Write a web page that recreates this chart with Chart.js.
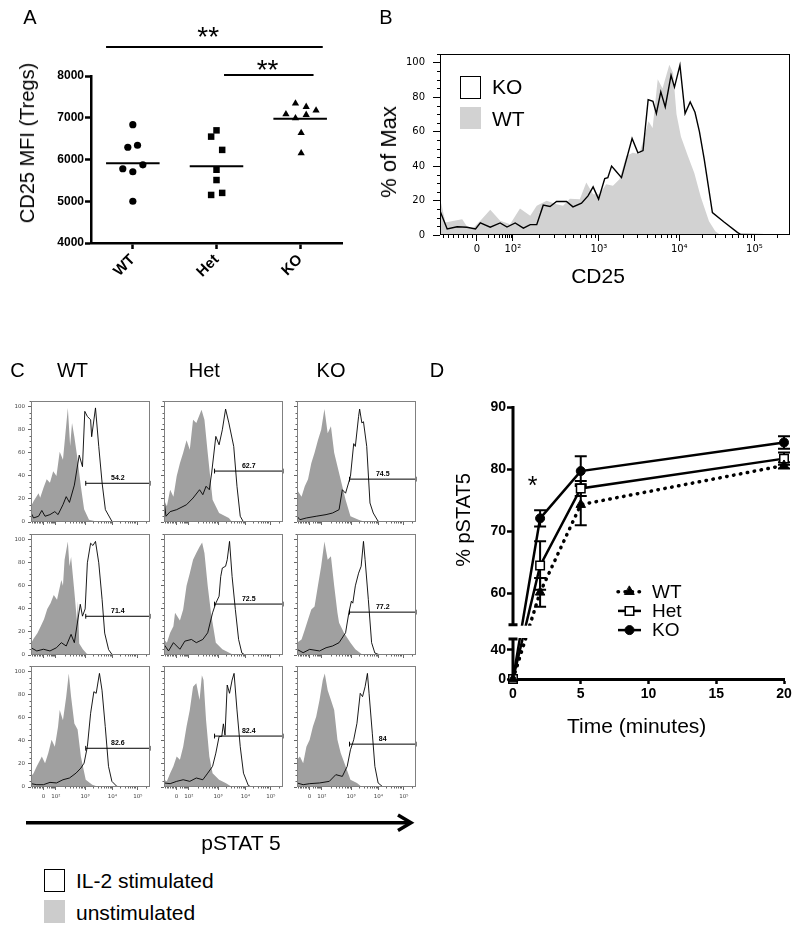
<!DOCTYPE html>
<html>
<head>
<meta charset="utf-8">
<title>CD25 and pSTAT5 in Tregs</title>
<script src="https://cdn.jsdelivr.net/npm/chart.js@4.4.1/dist/chart.umd.min.js"></script>
<style>
  html, body { margin: 0; padding: 0; background: #fff; }
  #fig { position: relative; width: 800px; height: 935px; overflow: hidden;
         font-family: "Liberation Sans", Arial, sans-serif; color: #000; }
  #fig canvas { position: absolute; }
  .t { position: absolute; white-space: nowrap; line-height: 1; transform: translate(-50%, -50%); z-index: 2; }
  .tl { position: absolute; white-space: nowrap; line-height: 1; transform: translate(0, -50%); z-index: 2; }
  .v { transform: translate(-50%, -50%) rotate(-90deg); }
  .key { position: absolute; box-sizing: border-box; z-index: 2; }
  svg { position: absolute; left: 0; top: 0; z-index: 2; }
</style>
</head>
<body>
<div id="fig">
  <!-- panel letters and titles -->
  <div class="t" style="left:30px;top:16.5px;font-size:20px">A</div>
  <div class="t" style="left:386px;top:16.5px;font-size:20px">B</div>
  <div class="t" style="left:17.5px;top:370px;font-size:20px">C</div>
  <div class="t" style="left:437px;top:370px;font-size:20px">D</div>

  <div class="t v" style="left:26.5px;top:142.5px;font-size:20px">CD25 MFI (Tregs)</div>

  <div class="t v" style="left:388.5px;top:151.5px;font-size:22px">% of Max</div>
  <div class="t" style="left:598px;top:275px;font-size:21px">CD25</div>
  <div class="key" style="left:460px;top:76px;width:21px;height:23px;border:1.5px solid #000;background:#fff"></div>
  <div class="tl" style="left:492px;top:86px;font-size:21px">KO</div>
  <div class="key" style="left:460px;top:107px;width:21px;height:22px;background:#d2d2d2"></div>
  <div class="tl" style="left:492px;top:118px;font-size:21px">WT</div>

  <div class="t" style="left:72.5px;top:370px;font-size:20px">WT</div>
  <div class="t" style="left:204.3px;top:370px;font-size:20px">Het</div>
  <div class="t" style="left:331px;top:370px;font-size:20px">KO</div>
  <div class="t" style="left:241px;top:841.5px;font-size:21px">pSTAT 5</div>
  <div class="key" style="left:44px;top:869px;width:21px;height:23px;border:1.5px solid #000;background:#fff"></div>
  <div class="tl" style="left:76px;top:879.5px;font-size:21px">IL-2 stimulated</div>
  <div class="key" style="left:44px;top:900px;width:21px;height:23px;background:#cccccc"></div>
  <div class="tl" style="left:76px;top:911.5px;font-size:21px">unstimulated</div>

  <div class="t v" style="left:463px;top:520px;font-size:20px">% pSTAT5</div>
  <div class="t" style="left:636.7px;top:725px;font-size:21px">Time (minutes)</div>
  <div class="t" style="left:532.5px;top:484.7px;font-size:25px">*</div>

  <svg width="800" height="935">
    <line x1="26" y1="822.7" x2="410" y2="822.7" stroke="#000" stroke-width="3.5"/>
    <polyline points="398,815 411,822.7 398,830.4" fill="none" stroke="#000" stroke-width="3.5"/>
  </svg>
</div>

<script>
// ---------- A: CD25 MFI of Tregs, one point per mouse ----------
const groups = ['WT', 'Het', 'KO'];
const mfiTicks = [4000, 5000, 6000, 7000, 8000];
const wtMFI = [6833, 6294, 6341, 5778, 5706, 5873, 5000];
const wtJitter = [0, -0.06, 0.056, -0.12, 0, 0.12, 0];
const hetMFI = [6698, 6548, 6230, 5754, 5508, 5151, 5200];
const hetJitter = [0, -0.064, 0.068, 0, 0, -0.064, 0.068];
const koMFI = [7341, 7262, 7175, 7087, 7071, 6992, 6635, 6151];
const koJitter = [-0.056, 0.072, 0.19, -0.17, 0.072, -0.056, 0.012, 0.012];
const groupMeans = [5913, 5841, 6976];

// ---------- B, C: histograms, x in channels (0-1024) of a biexponential axis ----------
const channelTicks = [108, 213, 465, 700, 920];
const channelLabels = ['0', '10²', '10³', '10⁴', '10⁵'];
const pctTicks = [0, 20, 40, 60, 80, 100];

// B: [channel, % of max]
const bKO = [[0,12],[2,13],[21,3.5],[50,4.8],[79,4.5],[104,3.5],[118,7],[147,4.5],[176,7],[196,4.6],[220,7],[244,4],[264,6],[283,6],[302,17.3],[322,16.5],[341,19.4],[370,19.4],[389,16.3],[414,18.5],[433,22.7],[448,27.9],[464,20.8],[482,32.7],[491,33.3],[502,40],[515,37],[531,33.3],[562,56],[579,47.7],[594,49],[609,78.5],[623,77.5],[633,70.5],[646,83],[659,74.3],[676,92.7],[686,85.8],[702,98.5],[717,70.5],[732,77.2],[746,71.2],[759,60],[773,44],[788,24.6],[797,13],[831,7.5],[870,1.5],[880,0.3],[1024,0]];
const bWT = [[0,20],[4,18],[16,7.3],[41,8.3],[65,9.2],[79,5],[94,3.5],[118,8.3],[147,14.6],[176,8.3],[205,6.3],[234,15.4],[264,11.2],[283,17],[312,19.8],[341,17.9],[360,17],[380,21],[409,20.8],[428,30.4],[448,23.7],[467,23.7],[486,29.4],[506,28.5],[525,32.3],[545,45.8],[564,47.7],[583,47],[599,58],[610,66],[622,62],[637,90.4],[651,85],[671,98.7],[682,94],[692,70],[705,57],[725,46],[744,36],[763,22],[787,8],[806,2],[821,0],[1024,0]];

// C: three experiments (rows) x WT / Het / KO (columns); [channel, % of max]
const cWT1Stim = [[0,8],[22,3.5],[65,5],[93,10],[121,5],[163,6.4],[205,9],[233,6.4],[275,15],[303,22],[331,17],[373,32],[415,58],[443,48],[463,96],[485,91.6],[513,88.7],[522,74],[555,99],[583,65.6],[612,33.8],[640,10.7],[696,0.6],[724,0],[1024,0]];
const cWT1Unst = [[0,13.6],[22,18],[65,25],[79,21],[107,29.5],[135,37],[163,34],[191,44],[219,40],[247,61],[275,54],[317,99],[337,66],[353,86],[373,74],[401,54],[429,31],[457,11],[499,2],[583,0],[1024,0]];
const cHet1Stim = [[0,19.4],[17,5],[53,9],[109,10.7],[194,15],[250,20.8],[306,28],[334,23.7],[362,31],[390,28],[410,42.5],[446,74.3],[474,67],[502,80],[530,98],[558,86],[600,65.6],[628,31],[656,5],[684,0],[1024,0]];
const cHet1Unst = [[0,19.4],[25,13.6],[53,28],[81,22],[109,39.6],[137,51],[165,60],[194,71],[222,62.7],[250,88.7],[278,86],[323,97.4],[348,88.7],[376,60],[418,19.4],[474,7.8],[558,3.5],[586,0],[1024,0]];
const cKO1Stim = [[0,5],[25,2],[81,3.5],[165,5],[250,6.4],[306,7.8],[362,10.7],[390,28],[418,25],[460,39.6],[488,68],[502,65.6],[530,91.6],[539,98],[558,86],[572,87],[600,65.6],[628,16.5],[656,7.8],[698,0.6],[727,0],[1024,0]];
const cKO1Unst = [[0,28],[39,22],[67,31],[95,37],[123,51],[151,60],[180,71],[208,80],[236,98],[264,77],[292,83],[320,60],[362,42.5],[418,19.4],[460,5],[530,2],[586,0],[1024,0]];

const cWT2Stim = [[0,6.3],[50,3.5],[107,5],[163,3.5],[219,6.3],[261,10.7],[303,7.8],[345,17.9],[373,10.7],[424,44],[443,33.7],[466,40],[485,80],[513,97],[533,95],[555,98.6],[583,80],[612,48],[634,19],[668,4.6],[696,0.6],[720,0],[1024,0]];
const cWT2Unst = [[0,10],[22,14],[56,19],[84,25],[112,31],[140,40],[168,45],[196,52],[224,48],[261,65],[275,60],[289,82.7],[317,98.6],[331,77],[345,85],[373,55],[395,30],[404,46.7],[415,10],[446,5],[480,1],[520,0],[1024,0]];
const cHet2Stim = [[0,9.2],[39,3.5],[81,10.7],[137,5],[179,12],[236,13.5],[278,10.7],[334,13.5],[376,19.3],[418,36.6],[446,45],[474,51],[488,68],[502,75.5],[530,77],[544,82.7],[564,98.6],[586,68],[614,39.5],[642,13.5],[670,1.7],[698,0],[1024,0]];
const cHet2Unst = [[0,13.5],[25,10.7],[53,19.3],[81,25],[95,36.6],[137,30],[165,39.5],[194,60],[222,71],[250,82.7],[278,88.5],[306,94],[328,97.7],[348,88.5],[376,60],[404,36.6],[446,10.7],[502,4.9],[586,0.6],[614,0],[1024,0]];
const cKO2Stim = [[0,4.9],[53,2],[109,4.9],[194,3.5],[250,6.3],[306,7.8],[362,10.7],[418,19.3],[446,36.6],[468,46.7],[480,45],[502,60],[530,71],[552,77],[572,98.6],[586,82.7],[614,48],[642,10.7],[670,1.7],[698,0.6],[720,0],[1024,0]];
const cKO2Unst = [[0,10.7],[39,13.5],[67,22],[95,30.8],[123,39.5],[151,42],[180,60],[208,77],[236,98.6],[264,82.7],[292,85.6],[320,60],[348,36.6],[362,28],[404,19.3],[460,10.7],[502,5],[558,0.6],[580,0],[1024,0]];

const cWT3Stim = [[0,2.9],[50,2],[107,2],[163,4],[219,3.5],[275,6.3],[331,7.8],[387,12],[429,16.4],[457,20.7],[485,35],[513,64],[541,82.7],[561,81.3],[589,98.6],[611,84],[639,52.4],[667,17.9],[696,4.9],[738,0.6],[766,0],[1024,0]];
const cWT3Unst = [[0,9.2],[22,12],[50,17.9],[79,23.6],[93,26.5],[121,20.7],[149,29.4],[177,41],[205,35],[233,52.4],[247,66.9],[275,58],[303,78.4],[325,98.6],[345,78.4],[373,55],[401,50],[429,26.5],[471,6.3],[527,2],[583,0],[1024,0]];
const cHet3Stim = [[0,3.5],[53,2.9],[109,4.9],[165,6.3],[222,4.9],[278,7.8],[334,6.3],[376,12],[418,17.9],[446,29.4],[474,43.8],[497,43.8],[511,54.8],[525,45],[544,88.5],[564,81.3],[586,92.8],[603,98.6],[628,66.9],[656,35],[684,12],[726,1.2],[754,0],[1024,0]];
const cHet3Unst = [[0,6.3],[25,4.9],[53,12],[81,17.9],[109,26.5],[137,23.6],[165,35],[194,52.4],[222,66.9],[250,87],[278,90],[306,75.5],[326,97],[340,92.8],[362,58],[390,26.5],[418,12],[474,6.3],[530,3.5],[586,0],[1024,0]];
const cKO3Stim = [[0,3.5],[53,2],[109,2.9],[194,3.5],[278,4.9],[334,10.7],[390,9.2],[432,17.9],[460,32.3],[488,41],[516,55.3],[544,81.3],[564,78.4],[586,87],[606,98.6],[620,81.3],[648,46.7],[670,17.9],[698,3.5],[740,0],[1024,0]];
const cKO3Unst = [[0,23.6],[25,26.5],[53,20.7],[81,35],[109,41],[137,52.4],[165,61],[194,75.5],[222,92.8],[239,98.6],[264,84],[292,75.5],[320,66.9],[348,41],[376,29.4],[418,17.9],[460,6.3],[516,3.5],[558,0],[1024,0]];

// pSTAT5+ gate: start channel and drawn height per genotype, % positive per panel
const gateStart = [471, 435, 452];
const gateLevel = [33.6, 44.2, 37.2];
const gatePercent = [['54.2', '62.7', '74.5'], ['71.4', '72.5', '77.2'], ['82.6', '82.4', '84']];

// ---------- D: % pSTAT5 over time, mean and SEM ----------
const minutes = [0, 2, 5, 20];
const minuteTicks = [0, 5, 10, 15, 20];
const pstatTicks = [0, 40, 60, 70, 80, 90];
const pstatWT = [0, 60.2, 74.3, 80.6];
const semWT = [0, 2.3, 3.3, 0.5];
const pstatHet = [0, 64.5, 76.9, 81.7];
const semHet = [0, 3.9, 1.2, 1.0];
const pstatKO = [0, 72.1, 79.7, 84.3];
const semKO = [0, 1.3, 2.4, 1.0];

// ---------------------------------------------------------------
Chart.defaults.font.family = '"Liberation Sans", Arial, sans-serif';
Chart.defaults.color = '#000';
Chart.defaults.animation = false;
Chart.defaults.events = [];
Chart.defaults.plugins.legend.display = false;
Chart.defaults.plugins.tooltip.enabled = false;

const fig = document.getElementById('fig');
function addCanvas(left, top, w, h) {
    const c = document.createElement('canvas');
    c.width = w;
    c.height = h;
    Object.assign(c.style, { left: left + 'px', top: top + 'px', width: w + 'px', height: h + 'px' });
    fig.insertBefore(c, fig.firstChild);
    return c;
}
const toXY = pairs => pairs.map(p => ({ x: p[0], y: p[1] }));

// minor tick positions along the biexponential axis
function channelMinors() {
    const out = [];
    for (let k = 1; k <= 7; k++) out.push(channelTicks[0] - 14 * k);
    for (let d = 0; d < channelTicks.length; d++) {
        const lo = channelTicks[d];
        const hi = d + 1 < channelTicks.length ? channelTicks[d + 1] : 2 * lo - channelTicks[d - 1];
        for (let m = 2; m <= 9; m++) out.push(lo + (hi - lo) * Math.log10(m));
    }
    return out.filter(v => v > 0 && v < 1024);
}
const xMinors = channelMinors();
const yMinors = [];
for (let v = 5; v <= 105; v += 5) if (v % 20) yMinors.push(v);

// ---------- plugins ----------
const frame = {
    id: 'frame',
    afterDatasetsDraw(chart, args, o) {
        const a = chart.chartArea, ctx = chart.ctx;
        ctx.save();
        ctx.strokeStyle = o.color;
        ctx.lineWidth = 1;
        ctx.strokeRect(a.left + 0.5, a.top + 0.5, a.right - a.left - 1, a.bottom - a.top - 1);
        ctx.restore();
    }
};

const minorTicks = {
    id: 'minorTicks',
    afterDraw(chart, args, o) {
        const { ctx, chartArea: a, scales } = chart;
        ctx.save();
        ctx.strokeStyle = o.color;
        ctx.lineWidth = 1;
        ctx.beginPath();
        xMinors.forEach(v => {
            const px = Math.round(scales.x.getPixelForValue(v)) + 0.5;
            ctx.moveTo(px, a.bottom);
            ctx.lineTo(px, a.bottom + o.len);
        });
        yMinors.forEach(v => {
            const py = Math.round(scales.y.getPixelForValue(v)) + 0.5;
            ctx.moveTo(a.left, py);
            ctx.lineTo(a.left - o.len, py);
        });
        ctx.stroke();
        ctx.restore();
    }
};

const gateLabel = {
    id: 'gateLabel',
    afterDatasetsDraw(chart, args, o) {
        if (!o.text) return;
        const pts = chart.getDatasetMeta(2).data;
        const ctx = chart.ctx;
        ctx.save();
        ctx.font = 'bold 7px "Liberation Sans"';
        ctx.textAlign = 'center';
        ctx.textBaseline = 'alphabetic';
        ctx.fillStyle = '#000';
        ctx.fillText(o.text, (pts[0].x + pts[1].x) / 2, pts[0].y - 3);
        ctx.restore();
    }
};

function histChart(canvas, c) {
    const datasets = [
        { data: toXY(c.stim), borderColor: '#000', borderWidth: c.lw, pointRadius: 0, fill: false, tension: 0, order: 0 },
        { data: toXY(c.unstim), borderColor: 'rgba(0,0,0,0)', borderWidth: 0, backgroundColor: c.fillColor,
          fill: 'origin', pointRadius: 0, tension: 0, order: 1 }
    ];
    if (c.gate) {
        datasets.push({
            data: [{ x: c.gate[0], y: c.gate[1] }, { x: 1024, y: c.gate[1] }],
            borderColor: '#000', borderWidth: 1, pointStyle: 'line', rotation: 90, pointRadius: 2.4,
            pointBorderWidth: 1, pointBorderColor: '#000', order: -1, clip: false
        });
    }
    const labelFont = { family: '"DejaVu Sans"', size: c.font };
    return new Chart(canvas, {
        type: 'line',
        data: { datasets },
        options: {
            responsive: false,
            devicePixelRatio: 1,
            layout: { padding: { top: c.padTop, right: c.padRight, left: 0, bottom: 0 } },
            scales: {
                x: {
                    type: 'linear', min: 0, max: 1024,
                    afterFit: s => { s.height = c.xH; },
                    afterBuildTicks: s => { s.ticks = channelTicks.map(v => ({ value: v })); },
                    ticks: { display: c.xLabels, callback: (v, i) => channelLabels[i], font: labelFont,
                             color: c.labelColor, padding: c.xPad, maxRotation: 0, autoSkip: false },
                    grid: { drawOnChartArea: false, tickLength: c.majorX, tickColor: c.tickColor, tickWidth: 1 },
                    border: { display: false }
                },
                y: {
                    min: 0, max: 105,
                    afterFit: s => { s.width = c.yW; },
                    afterBuildTicks: s => { s.ticks = pctTicks.map(v => ({ value: v })); },
                    ticks: { display: c.yLabels, callback: v => String(v), font: labelFont,
                             color: c.labelColor, padding: c.yPad, autoSkip: false },
                    grid: { drawOnChartArea: false, tickLength: c.majorY, tickColor: c.tickColor, tickWidth: 1 },
                    border: { display: false }
                }
            },
            plugins: {
                frame: { color: c.frameColor },
                minorTicks: { color: c.tickColor, len: c.minorLen },
                gateLabel: { text: c.gateText }
            }
        },
        plugins: [frame, minorTicks, gateLabel]
    });
}

// ---------- A ----------
const meanLines = {
    id: 'meanLines',
    afterDatasetsDraw(chart, args, o) {
        const { ctx, scales: { x, y } } = chart;
        ctx.save();
        ctx.strokeStyle = '#000';
        ctx.lineWidth = 2;
        groupMeans.forEach((m, g) => {
            const py = y.getPixelForValue(m);
            ctx.beginPath();
            ctx.moveTo(x.getPixelForValue(g - o.half), py);
            ctx.lineTo(x.getPixelForValue(g + o.half), py);
            ctx.stroke();
        });
        ctx.restore();
    }
};

const sigBars = {
    id: 'sigBars',
    afterDraw(chart, args, o) {
        const { ctx, scales: { x, y } } = chart;
        ctx.save();
        ctx.strokeStyle = '#000';
        ctx.fillStyle = '#000';
        ctx.lineWidth = 2;
        ctx.font = '28px "Liberation Sans"';
        ctx.textAlign = 'center';
        o.bars.forEach(b => {
            const py = y.getPixelForValue(b.y);
            ctx.beginPath();
            ctx.moveTo(x.getPixelForValue(b.from), py);
            ctx.lineTo(x.getPixelForValue(b.to), py);
            ctx.stroke();
            const m = ctx.measureText(b.text);
            const cy = py - b.lift;
            ctx.fillText(b.text, x.getPixelForValue(b.starX), cy + (m.actualBoundingBoxAscent - m.actualBoundingBoxDescent) / 2);
        });
        ctx.restore();
    }
};

const axisStyle = (len) => ({ drawOnChartArea: false, tickLength: len, tickWidth: 2.5, tickColor: '#000' });

new Chart(addCanvas(0, 0, 360, 300), {
    type: 'scatter',
    data: {
        datasets: [
            { data: wtMFI.map((v, i) => ({ x: 0 + wtJitter[i], y: v })), pointStyle: 'circle', pointRadius: 3.6 },
            { data: hetMFI.map((v, i) => ({ x: 1 + hetJitter[i], y: v })), pointStyle: 'rect', pointRadius: 4.6 },
            { data: koMFI.map((v, i) => ({ x: 2 + koJitter[i], y: v })), pointStyle: 'triangle', pointRadius: 4.2 }
        ].map(d => Object.assign(d, { backgroundColor: '#000', borderColor: '#000', borderWidth: 0 }))
    },
    options: {
        responsive: false,
        devicePixelRatio: 1,
        layout: { padding: { top: 76, right: 18, left: 0, bottom: 0 } },
        scales: {
            x: {
                type: 'linear', min: -0.5, max: 2.5,
                afterFit: s => { s.height = 57; },
                afterBuildTicks: s => { s.ticks = groups.map((g, i) => ({ value: i })); },
                ticks: { callback: (v, i) => groups[i], minRotation: 45, maxRotation: 45, autoSkip: false,
                         font: { size: 15, weight: 'bold' }, padding: 2 },
                grid: axisStyle(6),
                border: { width: 2.5, color: '#000' }
            },
            y: {
                min: 4000, max: 8000,
                afterFit: s => { s.width = 91; },
                afterBuildTicks: s => { s.ticks = mfiTicks.map(v => ({ value: v })); },
                ticks: { callback: v => String(v), font: { size: 12, weight: 'bold' }, padding: 1 },
                grid: axisStyle(6),
                border: { width: 2.5, color: '#000' }
            }
        },
        plugins: {
            meanLines: { half: 0.32 },
            sigBars: { bars: [
                { from: -0.32, to: 2.27, y: 8695, starX: 0.9, lift: 15, text: '**' },
                { from: 1.09, to: 2.16, y: 8024, starX: 1.61, lift: 9.5, text: '**' }
            ] }
        }
    },
    plugins: [meanLines, sigBars]
});

// ---------- B ----------
histChart(addCanvas(395, 38, 405, 232), {
    stim: bKO, unstim: bWT, fillColor: '#d2d2d2', lw: 1.4,
    padTop: 16, padRight: 10, yW: 45, xH: 35,
    majorX: 6, majorY: 7, minorLen: 3, font: 10,
    xLabels: true, yLabels: true, xPad: 2, yPad: 8,
    frameColor: '#000', tickColor: '#000', labelColor: '#000'
});

// ---------- C ----------
const cStim = [[cWT1Stim, cHet1Stim, cKO1Stim], [cWT2Stim, cHet2Stim, cKO2Stim], [cWT3Stim, cHet3Stim, cKO3Stim]];
const cUnst = [[cWT1Unst, cHet1Unst, cKO1Unst], [cWT2Unst, cHet2Unst, cKO2Unst], [cWT3Unst, cHet3Unst, cKO3Unst]];
const colLeft = [31, 164, 297];
const rowTop = [401, 534, 666];
for (let r = 0; r < 3; r++) {
    for (let col = 0; col < 3; col++) {
        histChart(addCanvas(colLeft[col] - 22, rowTop[r] - 8, 146, 143), {
            stim: cStim[r][col], unstim: cUnst[r][col], fillColor: '#a0a0a0', lw: 0.9,
            padTop: 8, padRight: 3, yW: 22, xH: 14,
            majorX: 3, majorY: 3, minorLen: 1.5, font: 5.5,
            xLabels: r === 2, yLabels: col === 0, xPad: 3, yPad: 3,
            frameColor: '#808080', tickColor: '#666', labelColor: '#444',
            gate: [gateStart[col], gateLevel[col]], gateText: gatePercent[r][col]
        });
    }
}

// ---------- D: linear axis with a break between 0-55 and 55-90 ----------
class BrokenLinearScale extends Chart.LinearScale {
    getPixelForValue(value) {
        const b = this.options.brk;
        const h = this.bottom - this.top;
        if (value <= b.at) {
            return this.bottom - (value - this.min) / (b.at - this.min) * b.low * h;
        }
        return this.bottom - (b.low + b.gap) * h - (value - b.at) / (this.max - b.at) * (1 - b.low - b.gap) * h;
    }
}
BrokenLinearScale.id = 'brokenLinear';
BrokenLinearScale.defaults = {};
Chart.register(BrokenLinearScale);

const errorBars = {
    id: 'errorBars',
    beforeDatasetsDraw(chart, args, o) {
        const { ctx, scales: { y } } = chart;
        ctx.save();
        ctx.strokeStyle = '#000';
        ctx.lineWidth = o.width;
        chart.data.datasets.forEach((ds, i) => {
            const meta = chart.getDatasetMeta(i);
            ds.sem.forEach((s, j) => {
                if (!s) return;
                const v = ds.data[j].y, px = meta.data[j].x;
                const top = y.getPixelForValue(v + s), bot = y.getPixelForValue(v - s);
                ctx.beginPath();
                ctx.moveTo(px, top); ctx.lineTo(px, bot);
                ctx.moveTo(px - o.cap, top); ctx.lineTo(px + o.cap, top);
                ctx.moveTo(px - o.cap, bot); ctx.lineTo(px + o.cap, bot);
                ctx.stroke();
            });
        });
        ctx.restore();
    }
};

const brokenAxis = {
    id: 'brokenAxis',
    afterDatasetsDraw(chart, args, o) {
        const { ctx, chartArea: a, scales: { y } } = chart;
        const b = y.options.brk, h = a.bottom - a.top;
        const lowTop = a.bottom - b.low * h;
        const upBottom = a.bottom - (b.low + b.gap) * h;
        ctx.save();
        ctx.fillStyle = '#fff';
        ctx.fillRect(a.left + 2, upBottom + 1, a.right - a.left + 10, lowTop - upBottom - 2);
        ctx.strokeStyle = '#000';
        ctx.lineWidth = o.width;
        ctx.beginPath();
        ctx.moveTo(a.left, a.top - 1); ctx.lineTo(a.left, upBottom);
        ctx.moveTo(a.left - o.cap, upBottom); ctx.lineTo(a.left + o.cap, upBottom);
        ctx.moveTo(a.left - o.cap, lowTop); ctx.lineTo(a.left + o.cap, lowTop);
        ctx.moveTo(a.left, lowTop); ctx.lineTo(a.left, a.bottom + 1.5);
        ctx.stroke();
        ctx.restore();
    }
};

const lineKey = {
    id: 'lineKey',
    afterDraw(chart, args, o) {
        const { ctx, chartArea: a } = chart;
        chart.data.datasets.forEach((ds, i) => {
            const x = a.left + o.left, y = a.top + o.top + i * o.gap;
            ctx.save();
            ctx.strokeStyle = '#000';
            ctx.lineWidth = ds.borderWidth;
            ctx.lineCap = ds.borderCapStyle || 'butt';
            ctx.setLineDash(ds.borderDash || []);
            ctx.beginPath();
            ctx.moveTo(x, y); ctx.lineTo(x + o.len, y);
            ctx.stroke();
            ctx.setLineDash([]);
            ctx.fillStyle = ds.pointBackgroundColor;
            ctx.strokeStyle = '#000';
            ctx.lineWidth = ds.pointBorderWidth;
            Chart.helpers.drawPoint(ctx, { pointStyle: ds.pointStyle, radius: ds.pointRadius,
                                           borderWidth: ds.pointBorderWidth, rotation: 0 }, x + o.len / 2, y);
            ctx.font = '19px "Liberation Sans"';
            ctx.fillStyle = '#000';
            ctx.textBaseline = 'middle';
            ctx.fillText(ds.label, x + o.textGap, y + 1);
            ctx.restore();
        });
    }
};

const series = (t, v) => t.map((m, i) => ({ x: m, y: v[i] }));
new Chart(addCanvas(440, 390, 360, 330), {
    type: 'line',
    data: {
        datasets: [
            { label: 'WT', data: series(minutes, pstatWT), sem: semWT, borderColor: '#000', borderWidth: 3.5,
              borderDash: [0.5, 6.5], borderCapStyle: 'round', pointStyle: 'triangle', pointRadius: 5.5,
              pointBackgroundColor: '#000', pointBorderColor: '#000', pointBorderWidth: 1, tension: 0, clip: false },
            { label: 'Het', data: series(minutes, pstatHet), sem: semHet, borderColor: '#000', borderWidth: 2.5,
              pointStyle: 'rect', pointRadius: 6, pointBackgroundColor: '#fff', pointBorderColor: '#000',
              pointBorderWidth: 1.5, tension: 0, clip: false },
            { label: 'KO', data: series(minutes, pstatKO), sem: semKO, borderColor: '#000', borderWidth: 2.5,
              pointStyle: 'circle', pointRadius: 4.5, pointBackgroundColor: '#000', pointBorderColor: '#000',
              pointBorderWidth: 1, tension: 0, clip: false }
        ]
    },
    options: {
        responsive: false,
        devicePixelRatio: 1,
        layout: { padding: { top: 17, right: 16, left: 0, bottom: 0 } },
        scales: {
            x: {
                type: 'linear', min: 0, max: 20,
                afterFit: s => { s.height = 41; },
                afterBuildTicks: s => { s.ticks = minuteTicks.map(v => ({ value: v })); },
                ticks: { font: { size: 14, weight: 'bold' }, padding: 2, maxRotation: 0, autoSkip: false },
                grid: axisStyle(5),
                border: { width: 3, color: '#000' }
            },
            y: {
                type: 'brokenLinear', min: 0, max: 90,
                brk: { at: 55, low: 40 / 272, gap: 14.3 / 272 },
                afterFit: s => { s.width = 73; },
                afterBuildTicks: s => { s.ticks = pstatTicks.map(v => ({ value: v })); },
                ticks: { callback: v => String(v), font: { size: 14, weight: 'bold' }, padding: 1, autoSkip: false },
                grid: axisStyle(6),
                border: { display: false }
            }
        },
        plugins: {
            errorBars: { width: 2, cap: 6 },
            brokenAxis: { width: 3, cap: 4.5 },
            lineKey: { left: 105, top: 184.7, gap: 19.2, len: 23, textGap: 34 }
        }
    },
    plugins: [errorBars, brokenAxis, lineKey]
});
</script>
</body>
</html>
